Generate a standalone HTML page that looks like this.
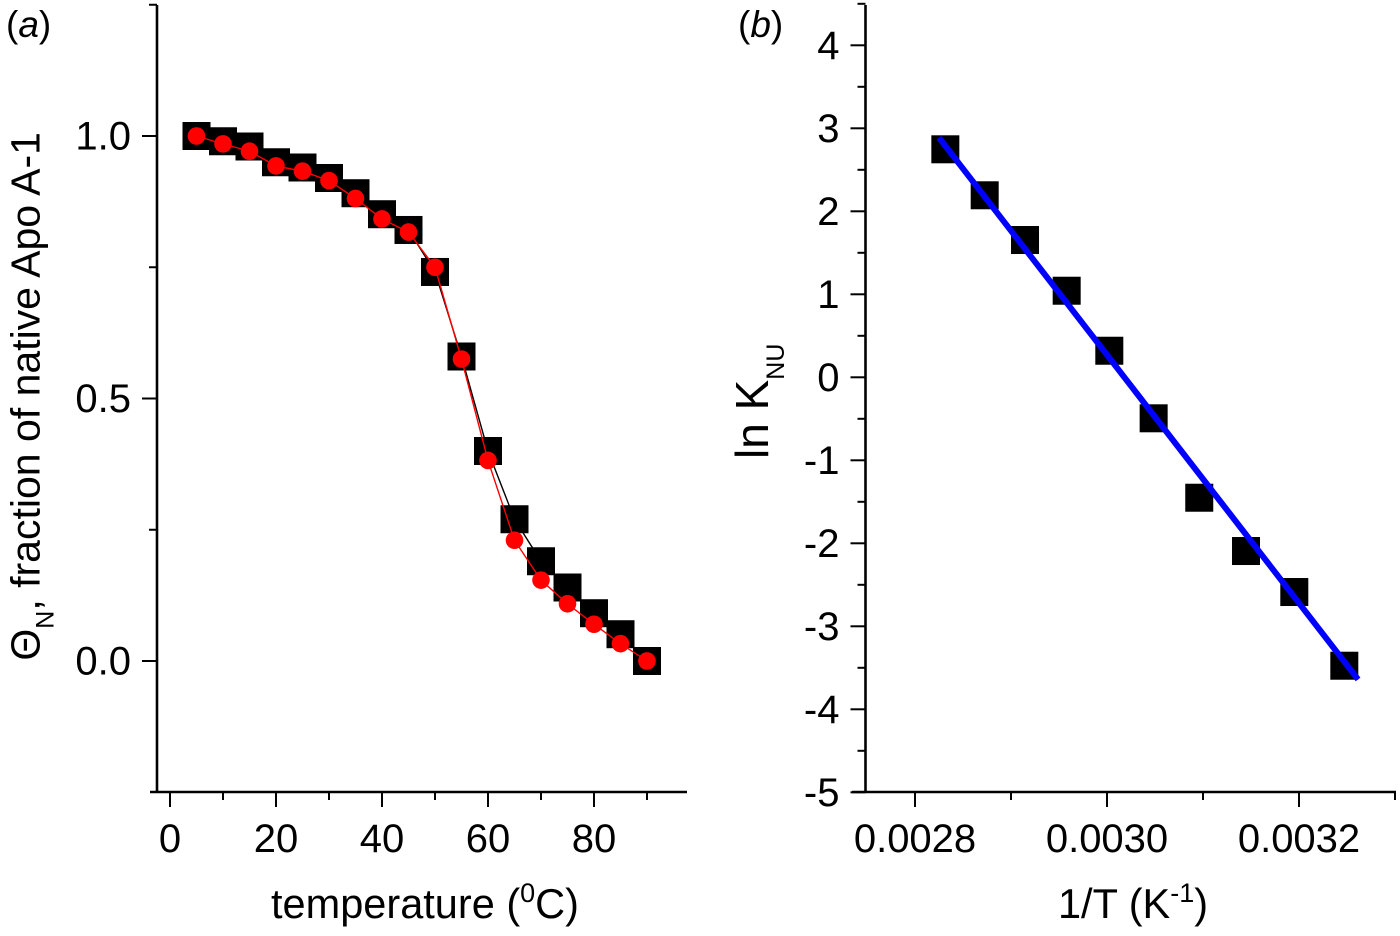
<!DOCTYPE html>
<html lang="en">
<head>
<meta charset="utf-8">
<title>Apo A-1 thermal unfolding</title>
<style>
html,body{margin:0;padding:0;background:#fff;width:1400px;height:936px;overflow:hidden}
svg{display:block}
text{font-family:"Liberation Sans",sans-serif;fill:#000}
</style>
</head>
<body>
<svg id="figure" width="1400" height="936" viewBox="0 0 1400 936" xmlns="http://www.w3.org/2000/svg">
  <text x="6" y="37" font-size="37">(<tspan font-style="italic">a</tspan>)</text>
  <text x="738" y="37" font-size="37">(<tspan font-style="italic">b</tspan>)</text>
  <text x="425" y="918" font-size="41.5" text-anchor="middle">temperature (<tspan font-size="27" dy="-16">0</tspan><tspan dy="16">C)</tspan></text>
  <text transform="translate(39.5,132) rotate(-90)" font-size="41" text-anchor="end">Θ<tspan font-size="25" dy="14">N</tspan><tspan dy="-14">, fraction of native Apo A-1</tspan></text>
  <text x="1133" y="918" font-size="41.5" text-anchor="middle">1/T (K<tspan font-size="27" dy="-16">-1</tspan><tspan dy="16">)</tspan></text>
  <text transform="translate(768,459) rotate(-90)" font-size="46">ln K<tspan font-size="25" dy="16">NU</tspan></text>
  <g id="panel-a"></g>
  <g id="panel-b"></g>
</svg>
<script>
const temperatures = [5,10,15,20,25,30,35,40,45,50,55,60,65,70,75,80,85,90];
const nativeFractionBlack = [1.0,0.99,0.98,0.95,0.94,0.92,0.891,0.851,0.821,0.741,0.58,0.40,0.27,0.19,0.14,0.091,0.051,0.0];
const nativeFractionRed = [1.0,0.985,0.971,0.943,0.933,0.915,0.881,0.842,0.817,0.75,0.575,0.382,0.23,0.154,0.109,0.07,0.033,0.0];
const aXMajorTicks = [0,20,40,60,80];
const aXMinorTicks = [10,30,50,70,90];
const aYMajorTicks = [0,0.5,1];
const aYMinorTicks = [0.25,0.75,1.25];
const aYTickLabels = ["0.0","0.5","1.0"];

const inverseT = [0.0028316,0.0028726,0.0029146,0.002958,0.0030024,0.0030486,0.0030961,0.0031448,0.0031951,0.0032472];
const lnK = [2.747,2.193,1.654,1.043,0.32,-0.494,-1.451,-2.093,-2.587,-3.475];
const fitX = [0.002825,0.0032615];
const fitY = [2.887,-3.64];
const bXMajorTicks = [0.0028,0.003,0.0032];
const bXMinorTicks = [0.0029,0.0031,0.0033];
const bXTickLabels = ["0.0028","0.0030","0.0032"];
const bYMajorTicks = [-5,-4,-3,-2,-1,0,1,2,3,4];
const bYMinorTicks = [-4.5,-3.5,-2.5,-1.5,-0.5,0.5,1.5,2.5,3.5,4.5];

const NS = "http://www.w3.org/2000/svg";
function make(parent, tag, attrs) {
  const el = document.createElementNS(NS, tag);
  for (const k in attrs) el.setAttribute(k, attrs[k]);
  parent.appendChild(el);
  return el;
}
const xA = v => 170 + v * 5.3;
const yA = v => 661 - v * 525;
const xB = v => 915 + (v - 0.0028) * 960000;
const yB = v => 377.3 - v * 83;

const AXW = 2.6, MAJ = 15, MIN = 8, TICK_FONT = 40;
const panelA = document.getElementById("panel-a");
const panelB = document.getElementById("panel-b");

function drawAxes(g, cfg) {
  let el = make(g, "line", {x1: cfg.x0, y1: 5, x2: cfg.x0, y2: 793, stroke: "#000", "stroke-width": AXW});
  
  
  el = make(g, "line", {x1: cfg.xStart, y1: 792, x2: cfg.xEnd, y2: 792, stroke: "#000", "stroke-width": AXW});
  
  

  cfg.xMajor.forEach((v, i) => {
    const t = make(g, "line", {x1: cfg.xf(v), y1: 792, x2: cfg.xf(v), y2: 792 + MAJ, stroke: "#000", "stroke-width": 2});
    
    
    const l = make(g, "text", {x: cfg.xf(v), y: 852, "font-size": TICK_FONT, "text-anchor": "middle"});
    l.textContent = cfg.xLabels[i];
    
    
  });
  cfg.xMinor.forEach(v => {
    const t = make(g, "line", {x1: cfg.xf(v), y1: 792, x2: cfg.xf(v), y2: 792 + MIN, stroke: "#000", "stroke-width": 2});
    
    
  });
  cfg.yMajor.forEach((v, i) => {
    const t = make(g, "line", {x1: cfg.x0, y1: cfg.yf(v), x2: cfg.x0 - MAJ, y2: cfg.yf(v), stroke: "#000", "stroke-width": 2});
    
    
    const l = make(g, "text", {x: cfg.x0 - 26, y: cfg.yf(v) + 13.5, "font-size": TICK_FONT, "text-anchor": "end"});
    l.textContent = cfg.yLabels[i];
    
    
  });
  cfg.yMinor.forEach(v => {
    const t = make(g, "line", {x1: cfg.x0, y1: cfg.yf(v), x2: cfg.x0 - MIN, y2: cfg.yf(v), stroke: "#000", "stroke-width": 2});
    
    
  });
}

drawAxes(panelA, {
  x0: 157, xStart: 150, xEnd: 687, xf: xA, yf: yA,
  xMajor: aXMajorTicks, xMinor: aXMinorTicks, yMajor: aYMajorTicks, yMinor: aYMinorTicks,
  xLabels: aXMajorTicks.map(String), yLabels: aYTickLabels
});
drawAxes(panelB, {
  x0: 865.5, xStart: 852, xEnd: 1396, xf: xB, yf: yB,
  xMajor: bXMajorTicks, xMinor: bXMinorTicks, yMajor: bYMajorTicks, yMinor: bYMinorTicks,
  xLabels: bXTickLabels, yLabels: bYMajorTicks.map(String)
});

const SQ = 28;
const blackLine = make(panelA, "polyline", {
  points: temperatures.map((t, i) => xA(t) + "," + yA(nativeFractionBlack[i])).join(" "),
  fill: "none", stroke: "#000", "stroke-width": 1.4
});


temperatures.forEach((t, i) => {
  const r = make(panelA, "rect", {x: xA(t) - SQ / 2, y: yA(nativeFractionBlack[i]) - SQ / 2, width: SQ, height: SQ, fill: "#000"});
  
  
});
const redLine = make(panelA, "polyline", {
  points: temperatures.map((t, i) => xA(t) + "," + yA(nativeFractionRed[i])).join(" "),
  fill: "none", stroke: "#f00", "stroke-width": 1.4
});


temperatures.forEach((t, i) => {
  const c = make(panelA, "circle", {cx: xA(t), cy: yA(nativeFractionRed[i]), r: 8.8, fill: "#f00"});
  
  
});

inverseT.forEach((v, i) => {
  const r = make(panelB, "rect", {x: xB(v) - SQ / 2, y: yB(lnK[i]) - SQ / 2, width: SQ, height: SQ, fill: "#000"});
  
  
});
const fit = make(panelB, "line", {x1: xB(fitX[0]), y1: yB(fitY[0]), x2: xB(fitX[1]), y2: yB(fitY[1]), stroke: "#00f", "stroke-width": 6});


</script>
</body>
</html>
